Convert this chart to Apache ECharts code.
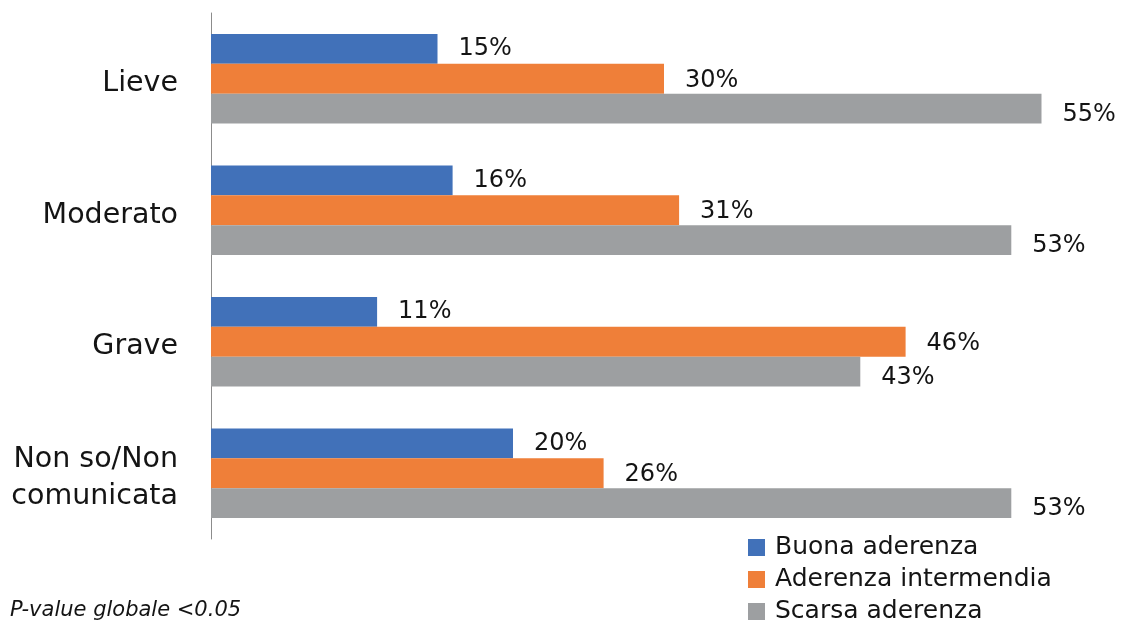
<!DOCTYPE html>
<html>
<head>
<meta charset="utf-8">
<style>
  html, body { margin: 0; padding: 0; background: #ffffff; }
  #chart { width: 1134px; height: 632px; }
</style>
<script src="https://cdn.jsdelivr.net/npm/echarts@6/dist/echarts.min.js"></script>
</head>
<body>
<div id="chart"></div>
<script>
// Severity groups (top to bottom)
const categories = ['Lieve', 'Moderato', 'Grave', 'Non so/Non\ncomunicata'];

// Share of patients per adherence level, in percent
const seriesNames = ['Buona aderenza', 'Aderenza intermendia', 'Scarsa aderenza'];
const buona = [15, 16, 11, 20];
const intermedia = [30, 31, 46, 26];
const scarsa = [55, 53, 43, 53];

const colors = ['#4171b9', '#ef7f39', '#9d9fa1'];
const FONT = '"DejaVu Sans", sans-serif';

const chart = echarts.init(document.getElementById('chart'), null, { renderer: 'canvas' });

function barSeries(name, data, color, labelOffset) {
  return {
    name: name,
    type: 'bar',
    data: data,
    barGap: '0%',
    barCategoryGap: '32%',
    itemStyle: { color: color },
    label: {
      show: true,
      position: 'right',
      distance: 21,
      offset: labelOffset,
      formatter: '{c}%',
      fontFamily: FONT,
      fontSize: 24,
      color: '#141414'
    },
    emphasis: { disabled: true },
    animation: false
  };
}

chart.setOption({
  backgroundColor: '#ffffff',
  animation: false,
  grid: { left: 211, right: 17, top: 13, bottom: 93, containLabel: false },
  xAxis: {
    type: 'value',
    min: 0,
    max: 60,
    show: false,
    splitLine: { show: false }
  },
  yAxis: {
    type: 'category',
    data: categories,
    inverse: true,
    axisLine: { show: true, lineStyle: { color: '#8c8c8c', width: 1 } },
    axisTick: { show: false },
    axisLabel: {
      margin: 33,
      align: 'right',
      // category names sit slightly below the group centre
      formatter: function (v) {
        return '{pad|}\n' + v.split('\n').map(function (s) { return '{c|' + s + '}'; }).join('\n');
      },
      rich: {
        pad: { height: 10, lineHeight: 10 },
        c: {
          fontFamily: FONT,
          fontSize: 28.5,
          lineHeight: 37,
          color: '#141414',
          align: 'right'
        }
      }
    }
  },
  legend: {
    orient: 'vertical',
    left: 748,
    top: 535,
    padding: 0,
    height: 97,
    itemWidth: 17,
    itemHeight: 17,
    itemGap: 7,
    icon: 'rect',
    data: seriesNames,
    selectedMode: false,
    textStyle: {
      fontFamily: FONT,
      fontSize: 25,
      lineHeight: 25,
      color: '#141414',
      padding: [0, 0, 0, 5]
    }
  },
  graphic: [{
    type: 'text',
    left: 10,
    top: 600,
    style: {
      text: 'P-value globale <0.05',
      fontFamily: FONT,
      fontStyle: 'italic',
      fontSize: 21,
      fill: '#141414'
    }
  }],
  series: [
    barSeries(seriesNames[0], buona, colors[0], [0, 0]),
    barSeries(seriesNames[1], intermedia, colors[1], [0, 2]),
    barSeries(seriesNames[2], scarsa, colors[2], [0, 6])
  ]
});
</script>
</body>
</html>
